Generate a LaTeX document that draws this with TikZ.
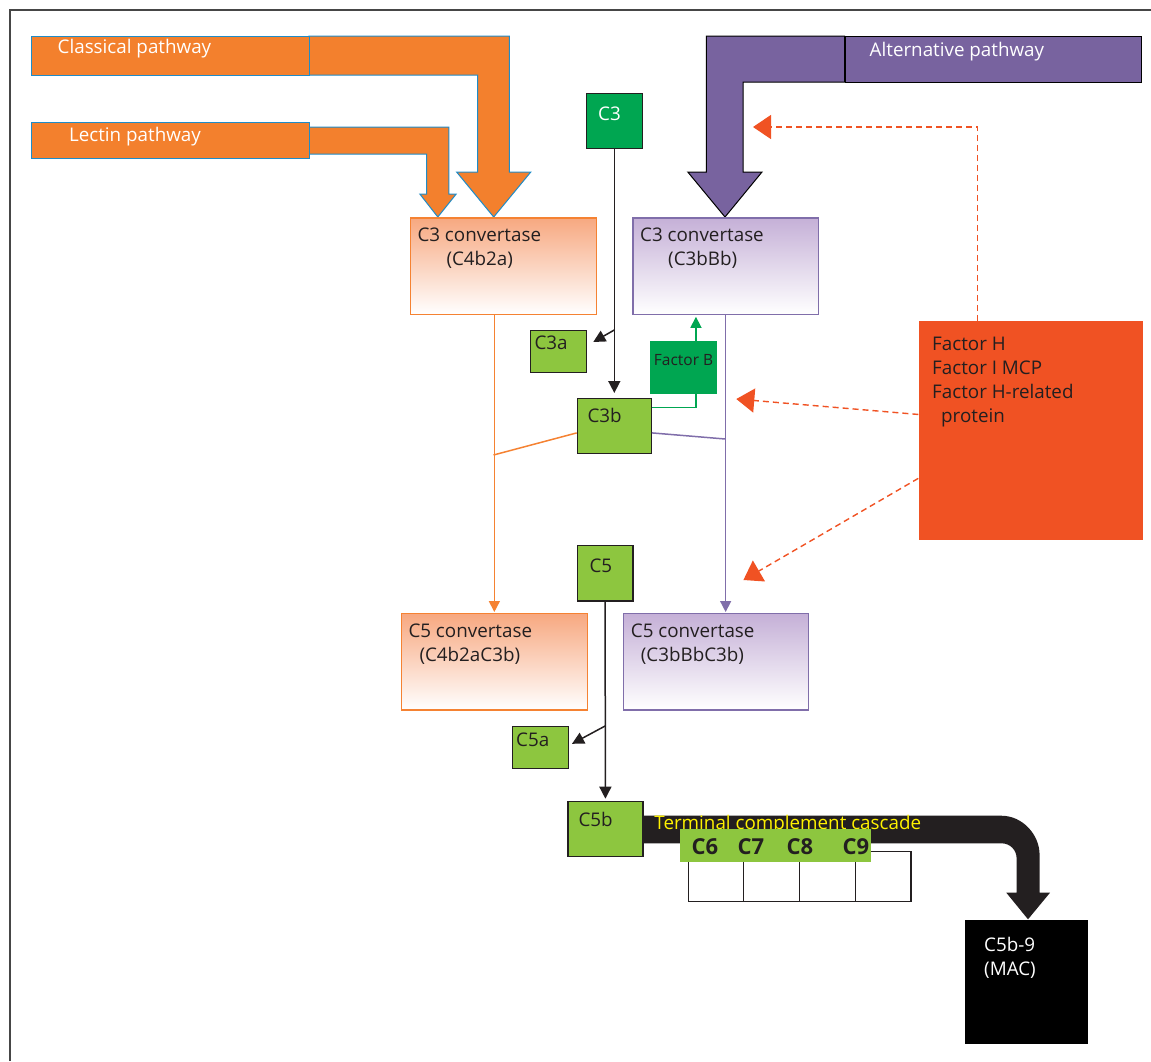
\documentclass[tikz,border=0pt]{standalone}
\usepackage{fontspec}
\setmainfont{Open Sans}
\usetikzlibrary{arrows.meta,positioning}

\definecolor{ink}{RGB}{35,31,32}
\definecolor{pathorange}{RGB}{243,128,45}
\definecolor{pathblue}{RGB}{30,140,200}
\definecolor{altpurple}{RGB}{120,99,159}
\definecolor{darkleaf}{RGB}{0,166,81}
\definecolor{leaf}{RGB}{141,198,63}
\definecolor{factorred}{RGB}{240,82,35}
\definecolor{convorange}{RGB}{245,130,50}
\definecolor{convtop}{RGB}{247,168,128}
\definecolor{convpurple}{RGB}{128,110,170}
\definecolor{alttop}{RGB}{197,176,215}
\definecolor{cascadeyellow}{RGB}{255,242,0}
\definecolor{framegray}{RGB}{70,70,70}

\newcommand\txtsize{\fontsize{18.8}{24}\selectfont}

\begin{document}
\begin{tikzpicture}[x=1pt,y=-1pt,
  tag/.style={anchor=north west,inner sep=0,font=\txtsize,align=left,text=ink},
  chip/.style={draw=ink,line width=1.2pt,fill=leaf,anchor=north west,inner sep=0},
  conv/.style={anchor=north west,inner sep=0,minimum width=185.5pt,minimum height=96.3pt,line width=1.2pt},
  classconv/.style={conv,draw=convorange,top color=convtop,bottom color=white},
  altconv/.style={conv,draw=convpurple,top color=alttop,bottom color=white},
  flat/.style={anchor=north west,inner sep=0},
  slot/.style={draw=ink,line width=1.2pt,fill=white,anchor=north west,inner sep=0,minimum width=55.7pt,minimum height=50.3pt},
  blk/.style={draw=ink,line width=1.5pt,-{Triangle[length=12pt,width=12pt]}},
  grnline/.style={draw=darkleaf,line width=1.5pt},
  orngline/.style={draw=convorange,line width=1.5pt},
  purpline/.style={draw=convpurple,line width=1.5pt},
  inhib/.style={draw=factorred,line width=1.4pt,dash pattern=on 6pt off 4pt,-{Triangle[length=18pt,width=24pt]}}]
\useasboundingbox (0,0) rectangle (1151,1061);
\draw[framegray,line width=1.5pt] (10,1061) -- (10,10) -- (1151,10);

% pathway arrows
\filldraw[fill=pathorange,draw=pathblue,line width=1pt] (308.8,36) -- (509.4,36) -- (509.4,172) -- (530.8,172) -- (493.7,217) -- (456.6,172) -- (477.6,172) -- (477.6,75) -- (308.8,75) -- cycle;
\filldraw[fill=pathorange,draw=pathblue,line width=1pt] (308.8,127) -- (448.9,127) -- (448.9,194) -- (456.2,194) -- (437.8,217) -- (419.8,194) -- (426.7,194) -- (426.7,154) -- (308.8,154) -- cycle;
\filldraw[fill=altpurple,draw=black,line width=1pt] (844.7,36) -- (706.4,36) -- (706.4,172) -- (687.8,172) -- (725,217) -- (762,172) -- (743.1,172) -- (743.1,82) -- (844.7,82) -- cycle;
\node[flat,fill=pathorange,draw=pathblue,line width=1pt,minimum width=278.2pt,minimum height=39pt] (classical) at (30.6,36) {};
\node[flat,fill=pathorange,draw=pathblue,line width=1pt,minimum width=278.2pt,minimum height=36pt] (lectin) at (30.6,122) {};
\node[flat,fill=altpurple,draw=black,line width=1pt,minimum width=296.5pt,minimum height=46pt] (alternative) at (844.7,36) {};
\node[tag,text=white] (classicaltxt) at ([shift={(26.9,3.3)}]classical.north west) {Classical pathway};
\node[tag,text=white] (lectintxt) at ([shift={(38.3,4.7)}]lectin.north west) {Lectin pathway};
\node[tag,text=white] (alternativetxt) at ([shift={(24.8,6.3)}]alternative.north west) {Alternative pathway};

% convertases
\node[classconv] (c3class) at (410,217.3) {};
\node[altconv] (c3alt) at (632.3,217.3) {};
\node[classconv] (c5class) at (401,613) {};
\node[altconv] (c5alt) at (622.7,613) {};
\node[tag] (c3classtxt) at ([shift={(7.3,10)}]c3class.north west) {C3 convertase\\\hspace*{29pt}(C4b2a)};
\node[tag] (c3alttxt) at ([shift={(7.7,10)}]c3alt.north west) {C3 convertase\\\hspace*{28pt}(C3bBb)};
\node[tag] (c5classtxt) at ([shift={(7.3,10.3)}]c5class.north west) {C5 convertase\\\hspace*{11pt}(C4b2aC3b)};
\node[tag] (c5alttxt) at ([shift={(8,10.3)}]c5alt.north west) {C5 convertase\\\hspace*{10pt}(C3bBbC3b)};

% components
\node[chip,fill=darkleaf,minimum width=56.4pt,minimum height=55pt] (c3) at (585.5,93) {};
\node[chip,minimum width=56pt,minimum height=41.7pt] (c3a) at (530,330) {};
\node[chip,minimum width=74pt,minimum height=55pt] (c3b) at (576.7,398) {};
\node[chip,minimum width=55.6pt,minimum height=55.3pt] (c5) at (576.7,545) {};
\node[chip,minimum width=56pt,minimum height=41.7pt] (c5a) at (511.7,726) {};
\node[chip,minimum width=75pt,minimum height=55pt] (c5b) at (567.3,800.7) {};
\node[tag,text=white] (c3txt) at ([shift={(12.5,14)}]c3.north west) {C3};
\node[tag] (c3atxt) at ([shift={(4.3,6)}]c3a.north west) {C3a};
\node[tag] (c3btxt) at ([shift={(10.6,10)}]c3b.north west) {C3b};
\node[tag] (c5txt) at ([shift={(12.6,13.3)}]c5.north west) {C5};
\node[tag] (c5atxt) at ([shift={(4.3,6.3)}]c5a.north west) {C5a};
\node[tag] (c5btxt) at ([shift={(11,11)}]c5b.north west) {C5b};
\node[flat,fill=darkleaf,minimum width=66.7pt,minimum height=52.3pt] (factorb) at (650,341) {};
\node[text=ink,inner sep=0,font=\fontsize{15.5}{18}\selectfont] (factorbtxt) at ([yshift=7pt]factorb.center) {Factor B};
\node[flat,fill=factorred,minimum width=224pt,minimum height=218.3pt] (factorh) at (918.3,321) {};
\node[tag] (factorhtxt) at ([shift={(13.7,15.7)}]factorh.north west) {Factor H\\Factor I MCP\\Factor H-related\\\hspace*{9pt}protein};

% connectors
\draw[blk,shorten >=5pt] (c3.south) -- (c3b.north);
\draw[blk,shorten >=7pt] (c3.south |- c3a.north) -- ([yshift=6pt]c3a.east);
\draw[grnline] ([yshift=18.8pt]c3b.east) -| ([xshift=12.4pt]factorb.south);
\draw[grnline,-{Triangle[length=11pt,width=11pt]},shorten >=2pt] ([xshift=12.4pt]factorb.north) -- ([xshift=12.4pt]factorb.north |- c3alt.south);
\coordinate (orangejoin) at (493.5,455);
\coordinate (purplejoin) at (725.2,439);
\draw[orngline,-{Triangle[length=11pt,width=11pt]},shorten >=1pt] (c5class.north |- c3class.south) -- (c5class.north);
\draw[orngline] ([yshift=-6.8pt]c3b.west) -- (orangejoin);
\draw[purpline,-{Triangle[length=11pt,width=11pt]},shorten >=1pt] (c3alt.south) -- (c3alt.south |- c5alt.north);
\draw[purpline] ([yshift=-6.8pt]c3b.east) -- (purplejoin);
\coordinate (althit) at (753,127);
\coordinate (c3bbhit) at (736.3,399);
\coordinate (c5hit) at (743.4,580);
\draw[inhib] ([xshift=-53pt]factorh.north) |- (althit);
\draw[inhib] ([yshift=15.9pt]factorh.west) -- (c3bbhit);
\draw[inhib] ([yshift=-48pt]factorh.west) -- (c5hit);
\draw[blk,shorten >=2pt] (c5.south) -- (c5b.north);
\draw[blk,shorten >=3.5pt] (c5.south |- c5a.north) -- ([yshift=2pt]c5a.east);

% terminal cascade
\fill[ink] (c5b.east |- 0,815.7) -- (1001.3,815.7) .. controls (1022.5,815.7) and (1039.6,834.5) .. (1039.6,855) -- (1039.6,892.7) -- (1050,892.7) -- (1028,919.3) -- (1006.3,892.7) -- (1016.6,892.7) -- (1016.6,858.3) .. controls (1016.6,850) and (1010,843.3) .. (1001.6,843.3) -- (c5b.east |- 0,843.3) -- cycle;
\node[tag,text=cascadeyellow] (cascadetxt) at (654.2,815) {Terminal complement cascade};
\foreach \i in {0,1,2,3}
  \node[slot] (slot\i) at ({687.5+55.7*\i},850.7) {};
\node[flat,fill=leaf,minimum width=191.3pt,minimum height=32.7pt] (band) at (679.9,829) {};
\foreach \lbl/\xc in {C6/705,C7/751,C8/800,C9/856}
  \node[text=ink,inner sep=0,font=\bfseries\fontsize{22}{22}\selectfont] (\lbl) at (\xc,846.7) {\lbl};
\node[flat,fill=black,minimum width=123.2pt,minimum height=124pt] (mac) at (965,920) {};
\node[tag,text=white] (mactxt) at ([shift={(19,16.7)}]mac.north west) {C5b-9\\(MAC)};
\end{tikzpicture}
\end{document}
